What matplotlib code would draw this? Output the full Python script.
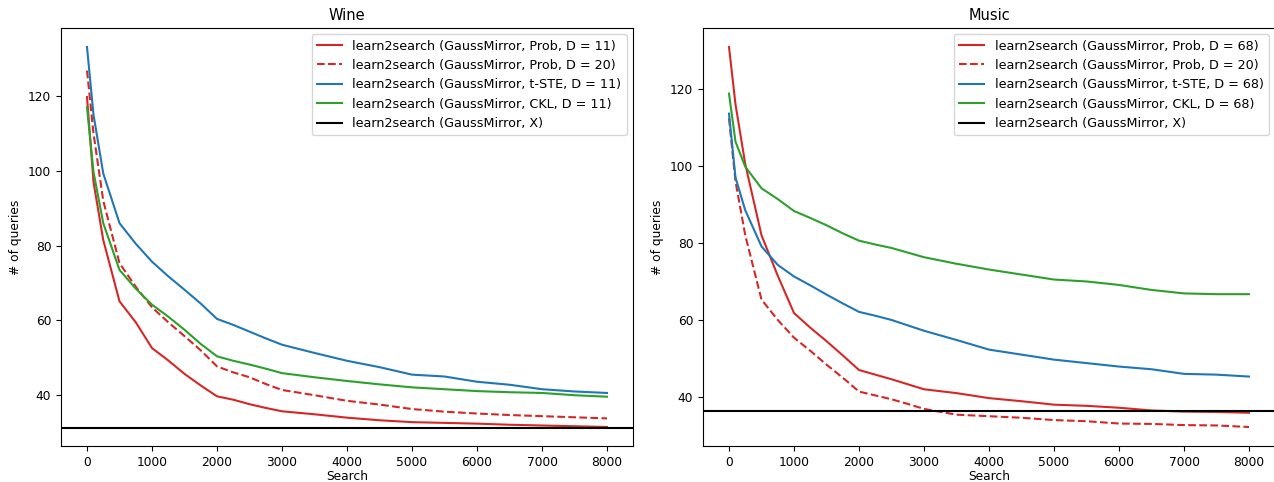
import numpy as np
import matplotlib
matplotlib.use("Agg")
import matplotlib.pyplot as plt

plt.rcParams['font.family'] = ['DejaVu Sans']
plt.rcParams['font.size'] = 8.8

# sampled search steps
steps = [0, 100, 250, 500, 750, 1000, 1250, 1500, 1750, 2000, 2250, 2500, 2750,
         3000, 3500, 4000, 4500, 5000, 5500, 6000, 6500, 7000, 7500, 8000]

# Wine
wine_prob11 = [119.7, 97, 81.5, 65.1, 59.5, 52.6, 49.3, 45.7, 42.6, 39.7, 38.8, 37.6, 36.6,
               35.7, 34.9, 34.0, 33.3, 32.8, 32.6, 32.4, 32.1, 31.9, 31.7, 31.5]
wine_prob20 = [126.8, 110, 92, 75.3, 69, 63.5, 59.5, 55.8, 52, 47.7, 46.1, 44.8, 43,
               41.4, 40.0, 38.5, 37.5, 36.3, 35.6, 35.1, 34.7, 34.4, 34.1, 33.8]
wine_tste11 = [133.1, 115, 99.3, 86, 80.5, 75.7, 71.8, 68.2, 64.5, 60.4, 58.8, 57, 55.2,
               53.5, 51.3, 49.2, 47.5, 45.5, 45.0, 43.6, 42.8, 41.6, 41.0, 40.6]
wine_ckl11 = [117, 99.7, 86, 73.5, 68.5, 64.2, 61, 57.5, 53.7, 50.4, 49.2, 48.2, 47.1,
              45.9, 44.8, 43.8, 42.9, 42.1, 41.6, 41.1, 40.8, 40.6, 40.0, 39.6]
wine_x = 31.3

# Music
music_prob68 = [130.9, 116, 100.5, 82, 71.5, 61.8, 58, 54.5, 50.8, 47, 45.8, 44.6, 43.3,
                42, 41, 39.7, 38.9, 38, 37.7, 37.2, 36.5, 36.2, 36.1, 35.9]
music_prob20 = [112.4, 96, 82, 65.3, 60, 55.4, 52, 48.4, 45, 41.4, 40.4, 39.4, 38.2,
                36.9, 35.4, 35, 34.6, 34, 33.7, 33.1, 33, 32.7, 32.6, 32.2]
music_tste68 = [113.6, 97, 88.5, 79.1, 74.3, 71.3, 69, 66.6, 64.3, 62.1, 61.1, 60, 58.6,
                57.2, 54.8, 52.3, 51, 49.7, 48.8, 47.9, 47.2, 46, 45.8, 45.3]
music_ckl68 = [118.8, 106.3, 99.8, 94.2, 91.4, 88.3, 86.5, 84.6, 82.5, 80.6, 79.6, 78.7, 77.5,
               76.3, 74.6, 73.1, 71.8, 70.5, 70.0, 69.1, 67.8, 66.9, 66.7, 66.7]
music_x = 36.4

fig = plt.figure(figsize=(12.74, 4.82), dpi=100)
W, H = 1274, 482
ax1 = fig.add_axes([61 / W, 36 / H, 572 / W, 418 / H])
ax2 = fig.add_axes([703 / W, 36 / H, 572 / W, 418 / H])


def draw(ax, title, series, xline, dims):
    p, p20, t, c = series
    ax.plot(steps, p, color='tab:red', lw=1.5,
            label='learn2search (GaussMirror, Prob, D = %d)' % dims)
    ax.plot(steps, p20, color='tab:red', lw=1.5, ls='--',
            label='learn2search (GaussMirror, Prob, D = 20)')
    ax.plot(steps, t, color='tab:blue', lw=1.5,
            label='learn2search (GaussMirror, t-STE, D = %d)' % dims)
    ax.plot(steps, c, color='tab:green', lw=1.5,
            label='learn2search (GaussMirror, CKL, D = %d)' % dims)
    ax.axhline(xline, color='black', lw=1.5, label='learn2search (GaussMirror, X)')
    ax.set_title(title, fontsize=10.5)
    ax.set_xlabel('Search', labelpad=1)
    ax.set_ylabel('# of queries')
    ax.set_xticks(range(0, 8001, 1000))
    ax.set_yticks([40, 60, 80, 100, 120])
    ax.legend(loc='upper right', fontsize=9.2)


draw(ax1, 'Wine', (wine_prob11, wine_prob20, wine_tste11, wine_ckl11), wine_x, 11)
draw(ax2, 'Music', (music_prob68, music_prob20, music_tste68, music_ckl68), music_x, 68)

fig.savefig('out.png', dpi=100)
